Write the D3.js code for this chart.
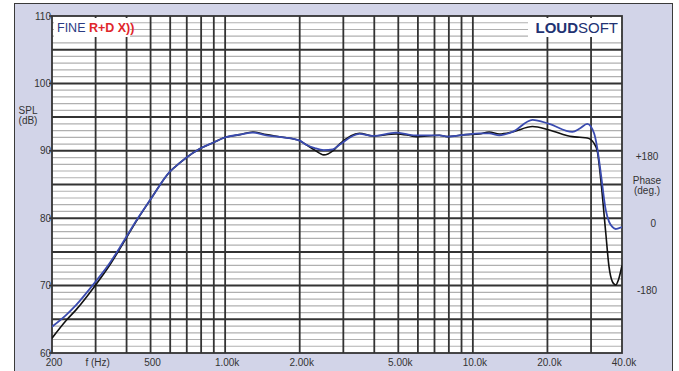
<!DOCTYPE html>
<html>
<head>
<meta charset="utf-8">
<script src="https://cdn.jsdelivr.net/npm/d3@7"></script>
<style>
  html, body { margin: 0; padding: 0; background: #ffffff; }
  svg { display: block; font-family: "Liberation Sans", Arial, sans-serif; }
</style>
</head>
<body>
<svg id="chart" width="679" height="371"></svg>
<script>
// ---- data ----
const freqs = [200, 229, 250, 300, 340, 372, 444, 500, 598, 656, 698, 790, 893, 1000, 1145, 1295, 1466, 1711, 2000, 2125, 2300, 2500, 2721, 2895, 3485, 3944, 4899, 5500, 5902, 7321, 7909, 9380, 10610, 11640, 12780, 14450, 17410, 20320, 25220, 27000, 28980, 30850, 31820, 32840, 34400, 35450, 36570, 37730, 38650, 40000];
const splBlack = [62.2, 64.9, 66.4, 70.1, 72.9, 75.2, 79.9, 82.8, 86.9, 88.2, 89.0, 90.3, 91.2, 92.0, 92.4, 92.8, 92.4, 92.0, 91.5, 90.9, 90.1, 89.4, 90.0, 91.0, 92.6, 92.2, 92.5, 92.3, 92.1, 92.3, 92.1, 92.4, 92.5, 92.8, 92.5, 92.8, 93.6, 93.1, 92.1, 92.0, 91.9, 91.1, 89.9, 85.7, 77.8, 72.8, 70.6, 70.1, 70.8, 73.0];
const splBlue  = [63.9, 65.7, 67.1, 70.6, 73.2, 75.4, 80.0, 82.8, 86.9, 88.2, 89.0, 90.3, 91.2, 92.0, 92.4, 92.7, 92.3, 92.0, 91.5, 90.9, 90.4, 90.1, 90.2, 90.9, 92.5, 92.2, 92.7, 92.4, 92.3, 92.3, 92.1, 92.4, 92.6, 92.6, 92.3, 92.8, 94.6, 94.0, 92.8, 93.3, 94.0, 92.6, 90.3, 86.7, 81.2, 79.5, 78.7, 78.4, 78.5, 78.7];
const xTickValues = [200, 300, 500, 1000, 2000, 5000, 10000, 20000, 40000];
const xTickLabels = ["200", "f (Hz)", "500", "1.00k", "2.00k", "5.00k", "10.0k", "20.0k", "40.0k"];
const xGridValues = [300, 400, 500, 600, 700, 800, 900, 1000, 2000, 3000, 4000, 5000, 6000, 7000, 8000, 9000, 10000, 20000, 30000];
const yTickValues = [60, 70, 80, 90, 100, 110];
const phaseTickValues = [180, 0, -180];
const phaseTickLabels = ["+180", "0", "-180"];

// ---- layout ----
const svg = d3.select("#chart");
const L = 52, R = 622, T = 16, B = 353;
const x = d3.scaleLog().domain([200, 40000]).range([L, R]);
const y = d3.scaleLinear().domain([60, 110]).range([B, T]);
const phase = d3.scaleLinear().domain([-180, 180]).range([y(69.2), y(89.2)]);

// outer frame
svg.append("rect").attr("x", 14.5).attr("y", 3.5).attr("width", 658).attr("height", 390)
  .attr("fill", "#d2d4e8").attr("stroke", "#3a3a3a").attr("stroke-width", 1);

// plot background
svg.append("rect").attr("x", L).attr("y", T).attr("width", R - L).attr("height", B - T).attr("fill", "#ffffff");

// minor horizontal grid
const minorDb = d3.range(61, 110).filter(d => d % 5 !== 0);
svg.append("g").selectAll("line").data(minorDb).join("line")
  .attr("x1", L).attr("x2", R).attr("y1", d => y(d)).attr("y2", d => y(d))
  .attr("stroke", "#b0b0b0").attr("stroke-width", 1.2);

// major horizontal grid
const majorDb = d3.range(65, 110, 5);
svg.append("g").selectAll("line").data(majorDb).join("line")
  .attr("x1", L).attr("x2", R).attr("y1", d => y(d)).attr("y2", d => y(d))
  .attr("stroke", "#333333").attr("stroke-width", 2);

// vertical grid
svg.append("g").selectAll("line").data(xGridValues).join("line")
  .attr("x1", d => x(d)).attr("x2", d => x(d)).attr("y1", T).attr("y2", B)
  .attr("stroke", "#333333").attr("stroke-width", 1.8);

// left ticks
svg.append("g").selectAll("line").data(yTickValues).join("line")
  .attr("x1", L - 3).attr("x2", L).attr("y1", d => y(d)).attr("y2", d => y(d))
  .attr("stroke", "#333").attr("stroke-width", 1.5);

// plot border
svg.append("rect").attr("x", L).attr("y", T).attr("width", R - L).attr("height", B - T)
  .attr("fill", "none").attr("stroke", "#333333").attr("stroke-width", 1.8);

// title boxes
const tb = svg.append("g");
tb.append("rect").attr("x", L + 2).attr("y", T + 2).attr("width", 76).attr("height", 19).attr("fill", "#fff");
const t1 = tb.append("text").attr("x", 57).attr("y", 32).attr("font-size", 12.5);
t1.append("tspan").attr("fill", "#2b3b82").text("FINE ");
t1.append("tspan").attr("fill", "#e0262b").attr("font-weight", "bold").text("R+D X))");
tb.append("rect").attr("x", 528).attr("y", T + 2).attr("width", R - 529).attr("height", 19).attr("fill", "#fff");
const t2 = tb.append("text").attr("x", 618).attr("y", 33).attr("text-anchor", "end").attr("font-size", 15);
t2.append("tspan").attr("fill", "#223272").attr("font-weight", "bold").text("LOUD");
t2.append("tspan").attr("fill", "#223272").text("SOFT");

// curves
const line = d3.line().x(d => x(d[0])).y(d => y(d[1])).curve(d3.curveMonotoneX);
svg.append("clipPath").attr("id", "pc").append("rect")
  .attr("x", L).attr("y", T).attr("width", R - L).attr("height", B - T);
svg.append("path").datum(freqs.map((f, i) => [f, splBlack[i]]))
  .attr("d", line).attr("fill", "none").attr("stroke", "#111111").attr("stroke-width", 1.6)
  .attr("clip-path", "url(#pc)");
svg.append("path").datum(freqs.map((f, i) => [f, splBlue[i]]))
  .attr("d", line).attr("fill", "none").attr("stroke", "#3a4bb0").attr("stroke-width", 1.8)
  .attr("clip-path", "url(#pc)");

// y labels
const lab = svg.append("g").attr("font-size", 10).attr("fill", "#333");
lab.selectAll("text.yl").data(yTickValues).join("text").attr("class", "yl")
  .attr("x", L - 1).attr("y", d => y(d) + 3.5).attr("text-anchor", "end")
  .text(d => d);
lab.append("text").attr("x", 28).attr("y", 114).attr("text-anchor", "middle").text("SPL");
lab.append("text").attr("x", 28).attr("y", 124).attr("text-anchor", "middle").text("(dB)");

// x labels
lab.selectAll("text.xl").data(xTickValues).join("text").attr("class", "xl")
  .attr("x", d => x(d) + 2).attr("y", 366).attr("text-anchor", "middle")
  .text((d, i) => xTickLabels[i]);

// phase labels
lab.selectAll("text.pl").data(phaseTickValues).join("text").attr("class", "pl")
  .attr("x", 653).attr("y", d => phase(d) + 3.5).attr("text-anchor", d => d === 0 ? "end" : "middle")
  .attr("dx", d => d === 0 ? 3 : -6)
  .text((d, i) => phaseTickLabels[i]);
lab.append("text").attr("x", 647).attr("y", 184).attr("text-anchor", "middle").text("Phase");
lab.append("text").attr("x", 647).attr("y", 194).attr("text-anchor", "middle").text("(deg.)");
</script>
</body>
</html>
